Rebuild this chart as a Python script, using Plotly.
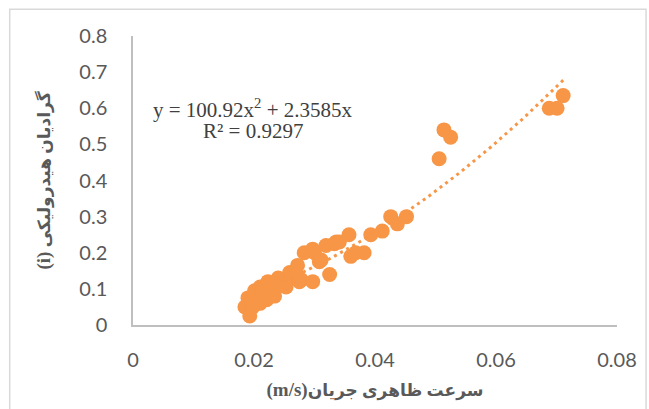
import numpy as np
import plotly.graph_objects as go

# Superficial flow velocity (m/s) and hydraulic gradient (i)
velocity = [
    0.0185, 0.0193, 0.0198, 0.0190, 0.0201, 0.0200, 0.0210, 0.0210, 0.0215,
    0.0221, 0.0223, 0.0229, 0.0226, 0.0234, 0.0240, 0.0245, 0.0251, 0.0253,
    0.0259, 0.0264, 0.0270, 0.0272, 0.0275, 0.0278, 0.0297, 0.0283, 0.0300,
    0.0297, 0.0308, 0.0311, 0.0319, 0.0325, 0.0333, 0.0336, 0.0341, 0.0357,
    0.0360, 0.0368, 0.0382, 0.0393, 0.0412, 0.0426, 0.0437, 0.0452, 0.0506,
    0.0514, 0.0525, 0.0688, 0.0701, 0.0711,
]
gradient = [
    0.05, 0.025, 0.05, 0.075, 0.095, 0.06, 0.06, 0.105, 0.10,
    0.07, 0.12, 0.115, 0.085, 0.08, 0.13, 0.11, 0.125, 0.105,
    0.145, 0.13, 0.14, 0.165, 0.12, 0.125, 0.12, 0.20, 0.20,
    0.21, 0.175, 0.18, 0.22, 0.14, 0.225, 0.23, 0.23, 0.25,
    0.19, 0.20, 0.20, 0.25, 0.26, 0.30, 0.28, 0.30, 0.46,
    0.54, 0.52, 0.60, 0.60, 0.635,
]

# Polynomial trendline coefficients (y = a*x^2 + b*x)
coef_a = 100.92
coef_b = 2.3585
r_squared = 0.9297

x_ticks = [0, 0.02, 0.04, 0.06, 0.08]
x_tick_text = ["0", "0.02", "0.04", "0.06", "0.08"]
y_ticks = [0, 0.1, 0.2, 0.3, 0.4, 0.5, 0.6, 0.7, 0.8]
y_tick_text = ["0", "0.1", "0.2", "0.3", "0.4", "0.5", "0.6", "0.7", "0.8"]

orange = "#F79646"
axis_grey = "#BFBFBF"
text_grey = "#595959"

trend_x = np.linspace(min(velocity), max(velocity), 200)
trend_y = coef_a * trend_x ** 2 + coef_b * trend_x

fig = go.Figure()
fig.add_trace(go.Scatter(
    x=velocity, y=gradient, mode="markers",
    marker=dict(color=orange, size=15, line=dict(width=0)),
    showlegend=False, hoverinfo="skip",
))
fig.add_trace(go.Scatter(
    x=trend_x, y=trend_y, mode="lines",
    line=dict(color=orange, width=3, dash="3px,4px"),
    showlegend=False, hoverinfo="skip",
))

serif_arabic = "Liberation Serif, DejaVu Sans, serif"

fig.update_layout(
    width=649, height=409,
    margin=dict(l=132.5, r=29.7, t=36.2, b=84),
    paper_bgcolor="white", plot_bgcolor="white",
    xaxis=dict(
        range=[0, 0.08], tickvals=x_ticks, ticktext=x_tick_text,
        showgrid=False, zeroline=False, showline=True,
        linecolor=axis_grey, linewidth=1.5, ticks="",
        ticklabelstandoff=16,
        tickfont=dict(family="Lato", size=20, color=text_grey),
        title=dict(
            text="<b><span style='font-size:19px'>(m/s)</span>سرعت ظاهری جریان</b>",
            font=dict(family=serif_arabic, size=17, color=text_grey),
            standoff=14,
        ),
    ),
    yaxis=dict(
        range=[0, 0.8], tickvals=y_ticks, ticktext=y_tick_text,
        showgrid=False, zeroline=False, showline=True,
        linecolor=axis_grey, linewidth=1.5, ticks="",
        ticklabelstandoff=20,
        tickfont=dict(family="Lato", size=20, color=text_grey),
        title=dict(
            text="<b><span style='font-size:19px'>(i)</span> گرادیان هیدرولیکی</b>",
            font=dict(family=serif_arabic, size=17, color=text_grey),
            standoff=24,
        ),
    ),
    annotations=[
        dict(
            xref="paper", yref="paper", x=0.2475, y=0.748,
            text="y = 100.92x<sup>2</sup> + 2.3585x",
            showarrow=False, xanchor="center", yanchor="middle",
            font=dict(family="Liberation Serif", size=21, color="#404040"),
        ),
        dict(
            xref="paper", yref="paper", x=0.2475, y=0.673,
            text=f"R² = {r_squared}",
            showarrow=False, xanchor="center", yanchor="middle",
            font=dict(family="Liberation Serif", size=21, color="#404040"),
        ),
    ],
    shapes=[
        dict(
            type="rect", xref="paper", yref="paper",
            x0=-0.2547, x1=1.06, y0=-0.35, y1=1.0925,
            line=dict(color="#D9D9D9", width=1.5), layer="below",
        ),
    ],
)

fig.write_html("out.html")
